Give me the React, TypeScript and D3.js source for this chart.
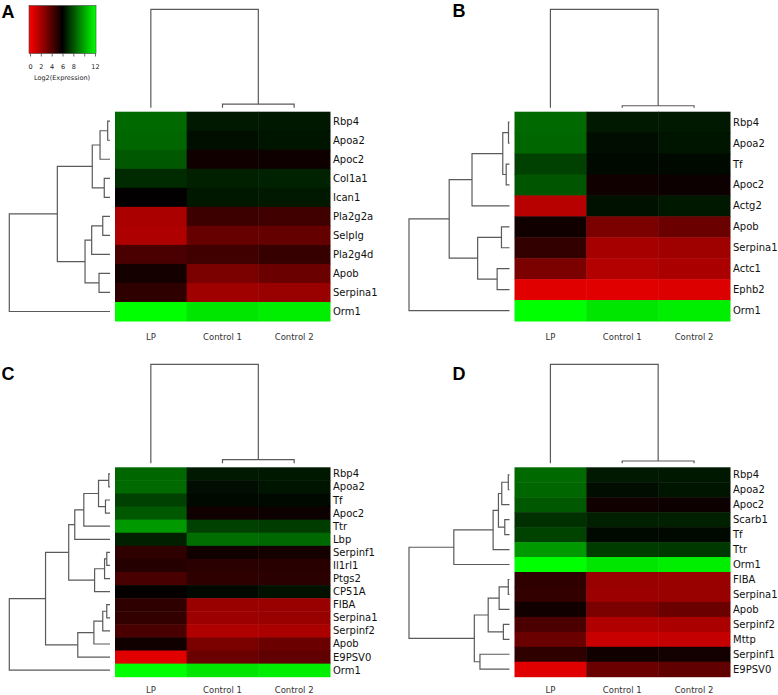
import React from "react";
import * as d3 from "d3";

// ---------- data ----------
const colLabels = ["LP", "Control 1", "Control 2"];

const rowsA = ["Rbp4", "Apoa2", "Apoc2", "Col1a1", "Ican1", "Pla2g2a", "Selplg", "Pla2g4d", "Apob", "Serpina1", "Orm1"];
const valuesA = [
  [8.5, 6.6, 6.55], [8.4, 6.35, 6.5], [8.1, 5.6, 5.65], [7.0, 6.75, 6.8], [5.95, 6.55, 6.6],
  [2.0, 4.6, 4.5], [1.9, 3.6, 3.65], [4.25, 4.5, 4.7], [5.5, 3.1, 3.5], [4.9, 2.25, 2.4], [12, 11.4, 11.6],
];
// hclust-style merges: negative = leaf (1-based), positive = earlier merge; third = height
const rowMergesA = [
  [-1, -2, 0.023], [-3, 1, 0.099], [-4, -5, 0.057], [2, 3, 0.176], [-6, -7, 0.072],
  [5, -8, 0.182], [-9, -10, 0.109], [6, 7, 0.248], [4, 8, 0.523], [9, -11, 1.0],
];
const colMergesA = [[-2, -3, 0.037], [-1, 1, 1.0]];

const rowsB = ["Rbp4", "Apoa2", "Tf", "Apoc2", "Actg2", "Apob", "Serpina1", "Actc1", "Ephb2", "Orm1"];
const valuesB = [
  [8.5, 6.6, 6.6], [8.4, 6.3, 6.5], [7.5, 6.2, 6.2], [8.0, 5.6, 5.7], [1.7, 6.4, 6.55],
  [5.6, 3.1, 3.5], [4.8, 2.1, 2.25], [3.1, 1.8, 2.0], [0.7, 0.7, 0.8], [12, 11.4, 11.6],
];
const rowMergesB = [
  [-1, -2, 0.01], [-3, -4, 0.033], [1, 2, 0.067], [3, -5, 0.373], [-6, -7, 0.08],
  [-8, -9, 0.123], [5, 6, 0.317], [4, 7, 0.6], [8, -10, 1.0],
];
const colMergesB = [[-2, -3, 0.02], [-1, 1, 1.0]];

const rowsC = ["Rbp4", "Apoa2", "Tf", "Apoc2", "Ttr", "Lbp", "Serpinf1", "Il1rl1", "Ptgs2", "CP51A", "FIBA", "Serpina1", "Serpinf2", "Apob", "E9PSV0", "Orm1"];
const valuesC = [
  [8.4, 6.6, 6.55], [8.5, 6.3, 6.5], [7.5, 6.2, 6.2], [8.1, 5.6, 5.7], [9.6, 7.5, 7.4], [6.75, 8.6, 8.45],
  [4.9, 5.6, 5.5], [5.15, 5.0, 5.05], [4.3, 4.9, 5.0], [5.9, 6.2, 6.4],
  [4.9, 2.4, 2.4], [4.8, 2.3, 2.4], [4.25, 1.85, 2.0], [5.6, 3.1, 3.5], [0.7, 3.5, 3.75], [12, 11.4, 11.6],
];
const rowMergesC = [
  [-1, -2, 0.012], [-3, -4, 0.045], [1, 2, 0.114], [3, -5, 0.26], [4, -6, 0.35],
  [-7, -8, 0.032], [6, -9, 0.054], [7, -10, 0.153], [5, 8, 0.41],
  [-11, -12, 0.032], [10, -13, 0.072], [11, -14, 0.16], [12, -15, 0.32],
  [9, 13, 0.64], [14, -16, 1.0],
];
const colMergesC = [[-2, -3, 0.037], [-1, 1, 1.0]];

const rowsD = ["Rbp4", "Apoa2", "Apoc2", "Scarb1", "Tf", "Ttr", "Orm1", "FIBA", "Serpina1", "Apob", "Serpinf2", "Mttp", "Serpinf1", "E9PSV0"];
const valuesD = [
  [8.5, 6.6, 6.55], [8.4, 6.3, 6.5], [8.1, 5.6, 5.7], [7.1, 6.75, 6.75], [7.55, 6.2, 6.2], [9.6, 7.4, 7.35], [12, 11.4, 11.6],
  [4.9, 2.4, 2.4], [4.8, 2.3, 2.4], [5.6, 3.1, 3.5], [4.25, 1.85, 2.0], [3.5, 1.3, 1.4], [4.9, 5.6, 5.55], [0.7, 3.5, 3.75],
];
const rowMergesD = [
  [-1, -2, 0.012], [1, -3, 0.077], [-4, -5, 0.047], [2, 3, 0.11], [4, -6, 0.163], [5, -7, 0.554],
  [-8, -9, 0.012], [7, -10, 0.103], [-11, -12, 0.061], [8, 9, 0.212], [-13, -14, 0.294], [10, 11, 0.35],
  [6, 12, 1.0],
];
const colMergesD = [[-2, -3, 0.023], [-1, 1, 1.0]];

const legendTicks = [0, 2, 4, 6, 8, 10, 12];
const legendTickLabels = ["0", "2", "4", "6", "8", "", "12"];

// ---------- helpers ----------
const color = d3.scaleLinear<string>().domain([0, 6, 12]).range(["#ff0000", "#000000", "#00ff00"]).clamp(true);
const FONT = "DejaVu Sans, Verdana, sans-serif";

type Merge = number[];

function dendroPaths(
  merges: Merge[],
  leafPos: (i: number) => number, // position along leaf axis for leaf index (0-based)
  hScale: (h: number) => number,
  leafH: number, // coordinate of leaf tips on height axis
  horizontal: boolean // true: height along x (row dendrogram)
) {
  const nodePos: { p: number; h: number }[] = [];
  const paths: string[] = [];
  const get = (id: number) => (id < 0 ? { p: leafPos(-id - 1), h: leafH } : nodePos[id - 1]);
  merges.forEach((m) => {
    const a = get(m[0]);
    const b = get(m[1]);
    const nh = hScale(m[2]);
    const np = (a.p + b.p) / 2;
    nodePos.push({ p: np, h: nh });
    if (horizontal) {
      paths.push(`M${a.h},${a.p}H${nh}V${b.p}H${b.h}`);
    } else {
      paths.push(`M${a.p},${a.h}V${nh}H${b.p}V${b.h}`);
    }
  });
  return paths;
}

type PanelProps = {
  rows: string[];
  values: number[][];
  rowMerges: Merge[];
  colMerges: Merge[];
  left: number;
  right: number;
  top: number;
  bottom: number;
  rootX: number;
  colTop: number;
  labelY: number;
  letter: string;
  letterX: number;
  letterY: number;
};

function Panel(p: PanelProps) {
  const y = d3.scaleBand<string>().domain(p.rows).range([p.top, p.bottom]);
  const x = d3.scaleBand<string>().domain(colLabels).range([p.left, p.right]);
  const leafX = p.left - 5;
  const maxRow = d3.max(p.rowMerges, (m) => m[2]) as number;
  const hx = d3.scaleLinear().domain([0, maxRow]).range([leafX, p.rootX]);
  const rowPaths = dendroPaths(p.rowMerges, (i) => (y(p.rows[i]) as number) + y.bandwidth() / 2, hx, leafX, true);
  const leafY = p.top - 4;
  const maxCol = d3.max(p.colMerges, (m) => m[2]) as number;
  const hy = d3.scaleLinear().domain([0, maxCol]).range([leafY, p.colTop]);
  const colPaths = dendroPaths(p.colMerges, (i) => (x(colLabels[i]) as number) + x.bandwidth() / 2, hy, leafY, false);
  return (
    <g>
      <text x={p.letterX} y={p.letterY} fontFamily="Liberation Sans, Arial, sans-serif" fontWeight="bold" fontSize={18}>
        {p.letter}
      </text>
      {p.rows.map((r, i) =>
        colLabels.map((c, j) => (
          <rect
            key={r + c}
            x={x(c)}
            y={y(r)}
            width={x.bandwidth() + 0.5}
            height={y.bandwidth() + 0.5}
            fill={color(p.values[i][j])}
          />
        ))
      )}
      {rowPaths.map((d, i) => (
        <path key={"r" + i} d={d} fill="none" stroke="#5a5a5a" strokeWidth={1.2} />
      ))}
      {colPaths.map((d, i) => (
        <path key={"c" + i} d={d} fill="none" stroke="#5a5a5a" strokeWidth={1.2} />
      ))}
      {p.rows.map((r) => (
        <text
          key={"t" + r}
          x={p.right + 3}
          y={(y(r) as number) + y.bandwidth() / 2}
          dy="0.35em"
          fontFamily={FONT}
          fontSize={10}
          fill="#111"
        >
          {r}
        </text>
      ))}
      {colLabels.map((c) => (
        <text
          key={"cl" + c}
          x={(x(c) as number) + x.bandwidth() / 2}
          y={p.labelY}
          dy="0.35em"
          textAnchor="middle"
          fontFamily={FONT}
          fontSize={8.5}
          fill="#333"
        >
          {c}
        </text>
      ))}
    </g>
  );
}

function Legend() {
  const lx = d3.scaleLinear().domain([0, 12]).range([30.5, 95.5]);
  const stops = d3.range(0, 12.01, 0.5);
  return (
    <g>
      <defs>
        <linearGradient id="lg" x1="0" x2="1" y1="0" y2="0">
          {stops.map((s) => (
            <stop key={s} offset={`${(s / 12) * 100}%`} stopColor={color(s)} />
          ))}
        </linearGradient>
      </defs>
      <rect x={29} y={5.5} width={67} height={48} fill="url(#lg)" stroke="#444" strokeWidth={0.6} />
      {legendTicks.map((t, i) => (
        <g key={t}>
          <line x1={lx(t)} x2={lx(t)} y1={53.5} y2={56.5} stroke="#444" strokeWidth={0.8} />
          <text x={lx(t)} y={66.5} dy="0.35em" textAnchor="middle" fontFamily={FONT} fontSize={6.5} fill="#222">
            {legendTickLabels[i]}
          </text>
        </g>
      ))}
      <text x={62} y={77.7} dy="0.35em" textAnchor="middle" fontFamily={FONT} fontSize={6.5} fill="#222">
        Log2(Expression)
      </text>
    </g>
  );
}

export default function App() {
  return (
    <svg width={778} height={695} style={{ position: "absolute", left: 0, top: 0, background: "#fff" }}>
      <rect width={778} height={695} fill="#fff" />
      <Panel rows={rowsA} values={valuesA} rowMerges={rowMergesA} colMerges={colMergesA}
        left={115} right={330} top={111.7} bottom={321} rootX={9.3} colTop={9.3} labelY={337.3}
        letter="A" letterX={1.5} letterY={18} />
      <Panel rows={rowsB} values={valuesB} rowMerges={rowMergesB} colMerges={colMergesB}
        left={514.5} right={730} top={111.7} bottom={321} rootX={409} colTop={9.3} labelY={337.3}
        letter="B" letterX={452.5} letterY={17} />
      <Panel rows={rowsC} values={valuesC} rowMerges={rowMergesC} colMerges={colMergesC}
        left={115} right={330} top={467.3} bottom={676.7} rootX={9.3} colTop={364.3} labelY={690}
        letter="C" letterX={1.5} letterY={379.5} />
      <Panel rows={rowsD} values={valuesD} rowMerges={rowMergesD} colMerges={colMergesD}
        left={514.5} right={730} top={467.3} bottom={676.7} rootX={409} colTop={364.3} labelY={690}
        letter="D" letterX={452.5} letterY={379.5} />
      <Legend />
    </svg>
  );
}
